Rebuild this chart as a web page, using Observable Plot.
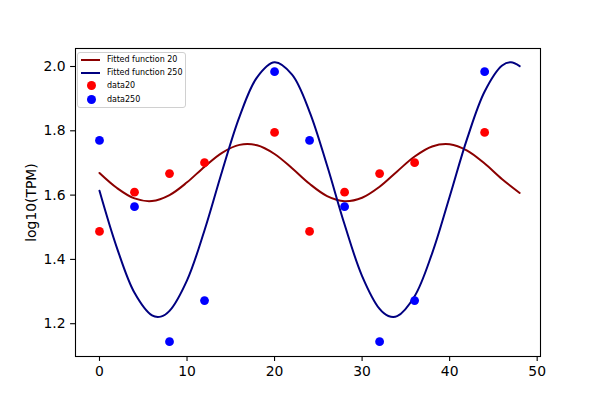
<!DOCTYPE html>
<html>
<head>
<meta charset="utf-8">
<script src="https://cdn.jsdelivr.net/npm/d3@7"></script>
<script src="https://cdn.jsdelivr.net/npm/@observablehq/plot@0.6"></script>
<style>
  body { margin: 0; background: white; }
  #wrap { position: relative; width: 600px; height: 400px; font-family: "DejaVu Sans", sans-serif; }
  #legend { position: absolute; left: 77px; top: 52px; width: 107px; height: 54px; border: 1px solid #d0d0d0; border-radius: 3px; background: rgba(255,255,255,0.8); font-size: 8px; color: black; }
  .row { position: absolute; left: 0; height: 10px; width: 100%; }
  .row .sw { position: absolute; left: 3px; width: 19px; }
  .row .ln { top: 4px; height: 2px; }
  .row .dt { left: 9px; top: 0px; width: 9px; height: 9px; border-radius: 50%; }
  .row .tx { position: absolute; left: 29px; top: 0px; line-height: 10px; white-space: nowrap; }
</style>
</head>
<body>
<div id="wrap"></div>
<script>
// ---- data ----
const timePoints = [0, 4, 8, 12, 20, 24, 28, 32, 36, 44];
const data20 = [1.487, 1.609, 1.667, 1.701, 1.795, 1.487, 1.609, 1.667, 1.701, 1.795];
const data250 = [1.770, 1.564, 1.144, 1.272, 1.984, 1.770, 1.564, 1.144, 1.272, 1.984];

const fit20X = [0, 2, 4, 6, 8, 10, 12, 14, 16, 18, 20, 22, 24, 26, 28, 30, 32, 34, 36, 38, 40, 42, 44, 46, 48];
const fit20Y = [1.6688, 1.6220, 1.5897, 1.5816, 1.6001, 1.6397, 1.6884, 1.7316, 1.7562, 1.7549, 1.7279, 1.6836, 1.6351,
                1.5971, 1.5811, 1.5919, 1.6262, 1.6737, 1.7201, 1.7514, 1.7581, 1.7384, 1.6980, 1.6492, 1.6067];

const fit250X = [0, 2, 4, 6, 7, 8, 10, 12, 14, 16, 18, 20, 22, 24, 26, 28, 30, 32, 33, 34, 36, 38, 40, 42, 44, 46, 47, 48];
const fit250Y = [1.6135, 1.4353, 1.2961, 1.2259, 1.2221, 1.2399, 1.3349, 1.4907, 1.6736, 1.8443, 1.9662, 2.0129, 1.9745,
                 1.8592, 1.6919, 1.5084, 1.3483, 1.2459, 1.2240, 1.2235, 1.2856, 1.4190, 1.5950, 1.7757, 1.9224, 2.0033, 2.0130, 2.0011];

const xTicks = [0, 10, 20, 30, 40, 50];
const yTicks = [1.2, 1.4, 1.6, 1.8, 2.0];

const legendItems = [
  {label: "Fitted function 20", color: "#8b0000", kind: "line"},
  {label: "Fitted function 250", color: "#000080", kind: "line"},
  {label: "data20", color: "#ff0000", kind: "dot"},
  {label: "data250", color: "#0000ff", kind: "dot"}
];

// ---- tables ----
const pts20 = timePoints.map((t, i) => ({t, v: data20[i]}));
const pts250 = timePoints.map((t, i) => ({t, v: data250[i]}));
const line20 = fit20X.map((t, i) => ({t, v: fit20Y[i]}));
const line250 = fit250X.map((t, i) => ({t, v: fit250Y[i]}));

const chart = Plot.plot({
  width: 600,
  height: 400,
  marginLeft: 75,
  marginRight: 60,
  marginTop: 48,
  marginBottom: 44,
  style: {fontFamily: "DejaVu Sans, sans-serif", fontSize: "13.9px", color: "black", background: "white", overflow: "visible"},
  x: {domain: [-2.74, 50.38]},
  y: {domain: [1.098, 2.056]},
  marks: [
    Plot.line(line20, {x: "t", y: "v", stroke: "#8b0000", strokeWidth: 2, curve: "catmull-rom"}),
    Plot.line(line250, {x: "t", y: "v", stroke: "#000080", strokeWidth: 2, curve: "catmull-rom"}),
    Plot.dot(pts20, {x: "t", y: "v", r: 4.4, fill: "#ff0000"}),
    Plot.dot(pts250, {x: "t", y: "v", r: 4.4, fill: "#0000ff"}),
    Plot.frame({stroke: "black", strokeWidth: 1.1}),
    Plot.axisX({ticks: xTicks, tickSize: 4.9, tickPadding: 5, tickFormat: d => String(d), label: null, strokeWidth: 1.1}),
    Plot.axisY({ticks: yTicks, tickSize: 4.9, tickPadding: 5, tickFormat: d3.format(".1f"), label: null, strokeWidth: 1.1}),
    Plot.text(["log10(TPM)"], {frameAnchor: "left", dx: -44, rotate: -90, fontSize: 13.9, textAnchor: "middle"})
  ]
});

const wrap = document.getElementById("wrap");
wrap.appendChild(chart);

const legend = document.createElement("div");
legend.id = "legend";
legendItems.forEach((item, i) => {
  const row = document.createElement("div");
  row.className = "row";
  row.style.top = (2 + i * 13.2) + "px";
  const sw = document.createElement("div");
  sw.className = "sw " + (item.kind === "line" ? "ln" : "dt");
  sw.style.background = item.color;
  const tx = document.createElement("div");
  tx.className = "tx";
  tx.textContent = item.label;
  row.appendChild(sw);
  row.appendChild(tx);
  legend.appendChild(row);
});
wrap.appendChild(legend);
</script>
</body>
</html>
